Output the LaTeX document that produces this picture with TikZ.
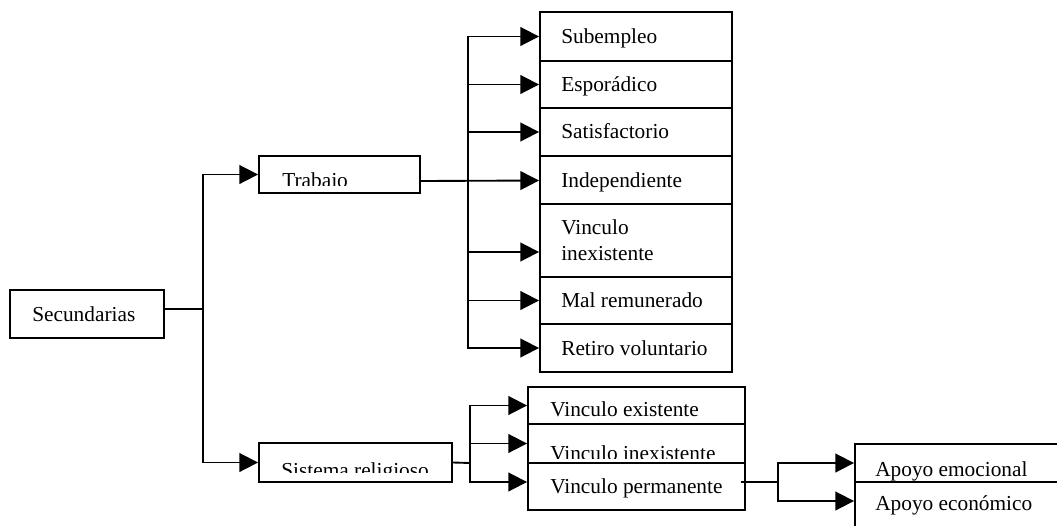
\documentclass[tikz,border=0pt]{standalone}
\usepackage{fontspec}
\setmainfont{Liberation Serif}
\usetikzlibrary{arrows.meta,fit,calc}
\tikzset{
  box/.style={draw, line width=1.4pt, inner sep=0pt},
  txt/.style={anchor=base west, inner sep=0pt, font=\fontsize{16}{19}\selectfont},
  conn/.style={line width=1.4pt},
  arr/.style={line width=1.4pt, -{Triangle[length=14pt,width=14pt]}}
}
\begin{document}
\begin{tikzpicture}[x=0.75pt,y=-0.75pt]
\clip (0,0) rectangle (1057,525);
% boxes
\node[box, fit={(10,290) (164,338)}] (sec) {};
\node[box, fit={(259,156) (420,193)}] (trab) {};
\node[box, fit={(540,12) (732,61)}] (sub) {};
\node[box, fit={(540,61) (732,108)}] (esp) {};
\node[box, fit={(540,108) (732,156)}] (sat) {};
\node[box, fit={(540,156) (732,204)}] (ind) {};
\node[box, fit={(540,204) (732,277)}] (vin) {};
\node[box, fit={(540,277) (732,324)}] (mal) {};
\node[box, fit={(540,324) (732,372)}] (ret) {};
\node[box, fit={(259,443) (452,482)}] (sis) {};
\node[box, fit={(528,387) (745,424)}] (vex) {};
\node[box, fit={(528,424) (745,463)}] (vinx) {};
\node[box, fit={(528,463) (745,510)}] (vper) {};
\node[box, overlay, fit={(855,444) (1120,482)}] (apem) {};
\node[box, overlay, fit={(855,482) (1120,560)}] (apec) {};
% texts
\node[txt] (tsec) at (32,321) {Secundarias};
\begin{scope}
\clip (259,156) rectangle (420,185);
\node[txt] (ttrab) at (282,187) {Trabajo};
\end{scope}
\node[txt] (tsub) at (561,43) {Subempleo};
\node[txt] (tesp) at (561,91) {Esporádico};
\node[txt] (tsat) at (561,138) {Satisfactorio};
\node[txt] (tind) at (561,187) {Independiente};
\node[txt] (tvin1) at (561,234) {Vinculo};
\node[txt] (tvin2) at (561,260) {inexistente};
\node[txt] (tmal) at (561,307) {Mal remunerado};
\node[txt] (tret) at (561,355) {Retiro voluntario};
\begin{scope}
\clip (259,443) rectangle (452,472);
\node[txt] (tsis) at (281,477) {Sistema religioso};
\end{scope}
\node[txt] (tvex) at (550,416) {Vinculo existente};
\begin{scope}
\clip (528,424) rectangle (745,458.5);
\node[txt] (tvinx) at (550,460) {Vinculo inexistente};
\end{scope}
\node[txt] (tvper) at (550,493) {Vinculo permanente};
\node[txt] (tapem) at (875,476) {Apoyo emocional};
\node[txt] (tapec) at (875,510) {Apoyo económico};
% connectors
\coordinate (j1) at (203,309);
\draw[conn] (sec.east |- j1) -- (j1);
\draw[arr] (j1) |- (trab.west);
\draw[arr] (j1) |- (sis.west);
\coordinate (j2) at (468,181);
\draw[arr] (trab.east |- j2) -- ($(ind.west)+(0,0.5)$);
\draw[arr] (j2) |- (sub.west);
\draw[arr] (j2) |- (esp.west);
\draw[arr] (j2) |- (sat.west);
\draw[arr] (j2) |- ($(vin.west)+(0,11.5)$);
\draw[arr] (j2) |- (mal.west);
\draw[arr] (j2) |- (ret.west);
\coordinate (j3) at (470,463);
\draw[conn] (sis.east) -- (j3);
\draw[arr] (j3) |- (vex.west);
\draw[arr] (j3) |- (vinx.west);
\draw[arr] (j3) |- ($(vper.west)+(0,-4.5)$);
\coordinate (j4) at (778,482);
\draw[conn] ($(vper.east)+(-5,-4.5)$) -- (j4);
\draw[arr] (j4) |- (apem.west);
\draw[arr] (j4) |- ($(apec.west)+(0,-20)$);
\end{tikzpicture}
\end{document}
